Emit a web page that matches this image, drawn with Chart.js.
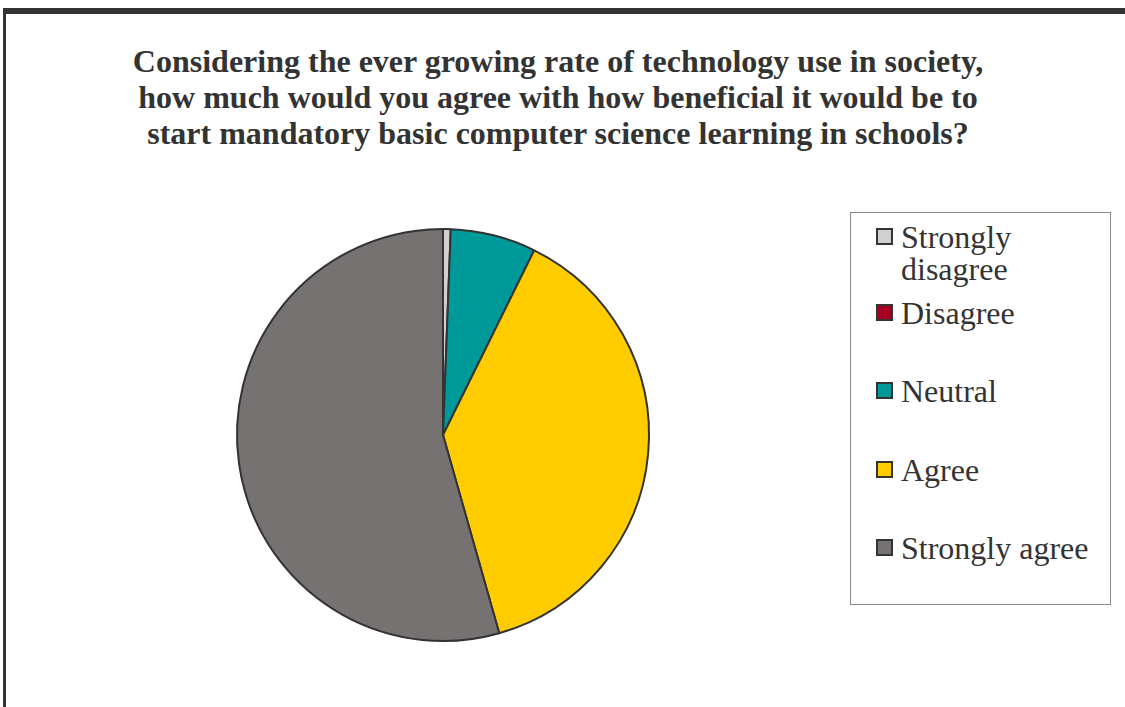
<!DOCTYPE html>
<html>
<head>
<meta charset="utf-8">
<script src="https://cdn.jsdelivr.net/npm/chart.js@4/dist/chart.umd.min.js"></script>
<style>
  html, body { margin: 0; padding: 0; background: #fff; }
  #wrap { position: relative; width: 1125px; height: 707px; overflow: hidden; background: #fff; }
  #frame { position: absolute; left: 3px; top: 8px; width: 1200px; height: 800px;
           border-left: 3px solid #333; border-top: 6px solid #333; box-sizing: border-box; }
  #title { position: absolute; left: 0; top: 43px; width: 1116px; text-align: center;
           font: bold 32px "Liberation Serif", "Times New Roman", serif; line-height: 36px; color: #333; }
  #chartBox { position: absolute; left: 0; top: 0; width: 1125px; height: 707px; }
  #legend { position: absolute; left: 850px; top: 212px; width: 261px; height: 393px;
            border: 1px solid #888; box-sizing: border-box; background: #fff; }
  .item { position: absolute; left: 25px; font: 32px "Liberation Serif", "Times New Roman", serif;
          color: #333; line-height: 32px; }
  .sw { position: absolute; left: 0; top: 7px; width: 13px; height: 13px; border: 2px solid #333; }
  .txt { position: absolute; left: 25px; top: 0; white-space: nowrap; }
</style>
</head>
<body>
<div id="wrap">
  <div id="frame"></div>
  <div id="title">Considering the ever growing rate of technology use in society,<br>how much would you agree with how beneficial it would be to<br>start mandatory basic computer science learning in schools?</div>
  <div id="chartBox"><canvas id="c" width="1125" height="707"></canvas></div>
  <div id="legend"></div>
</div>
<script>
// Survey responses (share of respondents, %)
const categories = ["Strongly disagree", "Disagree", "Neutral", "Agree", "Strongly agree"];
const legendLines = [["Strongly", "disagree"], ["Disagree"], ["Neutral"], ["Agree"], ["Strongly agree"]];
const responseShares = [0.6, 0, 6.7, 38.3, 54.4];
const sliceColors = ["#d0d0d0", "#a50021", "#009999", "#ffcc00", "#767271"];

new Chart(document.getElementById("c"), {
  type: "pie",
  data: {
    labels: categories,
    datasets: [{
      data: responseShares,
      backgroundColor: sliceColors,
      borderColor: "#333333",
      borderWidth: 2
    }]
  },
  options: {
    responsive: false,
    animation: false,
    layout: { padding: { left: 236, right: 475, top: 228, bottom: 65 } },
    plugins: {
      legend: { display: false },
      tooltip: { enabled: false },
      title: { display: false }
    }
  }
});

// Legend box, built from the same category list and colours
const legendTops = [8, 84, 162, 241, 319];
const legendEl = document.getElementById("legend");
categories.forEach((name, i) => {
  const item = document.createElement("div");
  item.className = "item";
  item.style.top = legendTops[i] + "px";
  const sw = document.createElement("div");
  sw.className = "sw";
  sw.style.background = sliceColors[i];
  const txt = document.createElement("div");
  txt.className = "txt";
  txt.innerHTML = legendLines[i].join("<br>");
  item.appendChild(sw);
  item.appendChild(txt);
  legendEl.appendChild(item);
});
</script>
</body>
</html>
